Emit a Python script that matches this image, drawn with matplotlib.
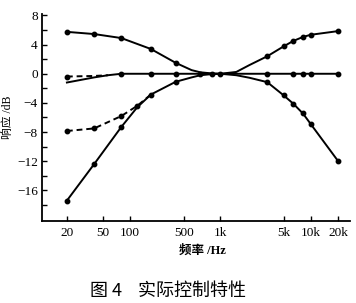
import matplotlib
matplotlib.use("Agg")
import matplotlib.pyplot as plt
from matplotlib.ticker import FixedLocator, NullFormatter

# ---- data ----
boost_freq = [20, 40, 80, 170, 320, 480, 600, 800, 1000, 1500, 2100, 3300, 5000, 6400, 8200, 10000, 20000]
boost_gain = [5.75, 5.45, 4.9, 3.4, 1.5, 0.5, 0.2, 0.05, 0.0, 0.25, 1.2, 2.4, 3.75, 4.5, 5.05, 5.35, 5.85]
boost_mark_freq = [20, 40, 80, 170, 320, 3300, 5000, 6400, 8200, 10000, 20000]
boost_mark_gain = [5.75, 5.45, 4.9, 3.4, 1.5, 2.4, 3.75, 4.5, 5.05, 5.35, 5.85]

cut_freq = [20, 40, 80, 120, 170, 320, 480, 600, 800, 1000, 1500, 2100, 3300, 5000, 6400, 8200, 10000, 20000]
cut_gain = [-17.4, -12.4, -7.3, -4.6, -2.85, -1.1, -0.5, -0.2, -0.05, 0.0, -0.2, -0.55, -1.15, -2.95, -4.1, -5.45, -6.9, -11.95]
cut_mark_freq = [20, 40, 80, 170, 320, 3300, 5000, 6400, 8200, 10000, 20000]
cut_mark_gain = [-17.4, -12.4, -7.3, -2.85, -1.1, -1.15, -2.95, -4.1, -5.45, -6.9, -11.95]

flat_freq = [20, 40, 57, 80, 170, 320, 600, 800, 1000, 3300, 6400, 8200, 10000, 20000]
flat_gain = [-1.2, -0.5, -0.2, 0.0, 0.0, 0.0, 0.0, 0.0, 0.0, 0.0, 0.0, 0.0, 0.0, 0.0]
flat_mark_freq = [80, 170, 320, 600, 800, 1000, 3300, 6400, 8200, 10000, 20000]
flat_mark_gain = [0.0] * 11

dash_hi_freq = [20, 40, 57]
dash_hi_gain = [-0.38, -0.3, -0.2]
dash_hi_mark_freq = [20]
dash_hi_mark_gain = [-0.38]

dash_lo_freq = [20, 40, 80, 120, 170]
dash_lo_gain = [-7.85, -7.5, -5.8, -4.4, -2.85]
dash_lo_mark_freq = [20, 40, 80, 120]
dash_lo_mark_gain = [-7.85, -7.5, -5.8, -4.4]

xtick_pos = [20, 50, 100, 395, 1000, 5000, 10000, 20000]
xtick_labels = ["20", "50", "100", "500", "1k", "5k", "10k", "20k"]
ytick_major = [-16, -12, -8, -4, 0, 4, 8]
ytick_labels = ["\u221216", "\u221212", "\u22128", "\u22124", "0", "4", "8"]
ytick_minor = [-18, -14, -10, -6, -2, 2, 6]

serif = ["Liberation Serif", "Noto Sans CJK SC"]

fig = plt.figure(figsize=(3.56, 3.03), dpi=100)
ax = fig.add_axes([42 / 356, 1 - 221 / 303, (350 - 42) / 356, (221 - 14) / 303])

lw = 1.4
ms = 3.2
ax.plot(boost_freq, boost_gain, color="black", lw=lw)
ax.plot(boost_mark_freq, boost_mark_gain, "o", color="black", ms=ms)
ax.plot(cut_freq, cut_gain, color="black", lw=lw)
ax.plot(cut_mark_freq, cut_mark_gain, "o", color="black", ms=ms)
ax.plot(flat_freq, flat_gain, color="black", lw=lw)
ax.plot(flat_mark_freq, flat_mark_gain, "o", color="black", ms=ms)
ax.plot(dash_hi_freq, dash_hi_gain, color="black", lw=lw, dashes=(3, 2))
ax.plot(dash_hi_mark_freq, dash_hi_mark_gain, "o", color="black", ms=ms)
ax.plot(dash_lo_freq, dash_lo_gain, color="black", lw=lw, dashes=(3, 2))
ax.plot(dash_lo_mark_freq, dash_lo_mark_gain, "o", color="black", ms=ms)

ax.set_xscale("log")
ax.set_xlim(10.6, 27200)
ax.set_ylim(-20.2, 8.2)

ax.xaxis.set_major_locator(FixedLocator(xtick_pos))
ax.set_xticklabels(xtick_labels, family=serif, fontsize=9.5)
ax.xaxis.set_minor_locator(FixedLocator([]))
ax.xaxis.set_minor_formatter(NullFormatter())
ax.set_yticks(ytick_major)
ax.set_yticklabels(ytick_labels, family=serif, fontsize=9.5)
ax.set_yticks(ytick_minor, minor=True)

ax.tick_params(axis="both", which="both", direction="in", length=3.5, width=1.0, color="black")
ax.tick_params(axis="x", pad=4)
ax.tick_params(axis="y", pad=3)

for s in ["top", "right"]:
    ax.spines[s].set_visible(False)
for s in ["left", "bottom"]:
    ax.spines[s].set_linewidth(1.3)

ax.set_xlabel("频率 /Hz", family=serif, fontsize=9, fontweight="bold")
ax.xaxis.set_label_coords(0.52, -0.115)
ax.set_ylabel("响应 /dB", family=serif, fontsize=8.5, va="center")
ax.yaxis.set_label_coords(-0.108, 0.5)

fig.text(168 / 356, 1 - 291 / 303, "图 4    实际控制特性", family=["Noto Sans CJK SC", "DejaVu Sans"],
         fontsize=13, ha="center", va="center")

fig.savefig("out.png", dpi=100, facecolor="white")
